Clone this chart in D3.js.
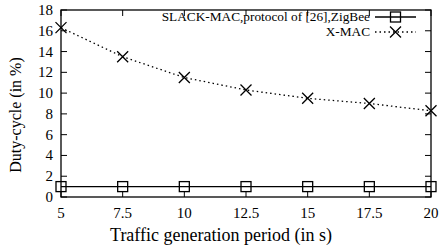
<!DOCTYPE html>
<html><head><meta charset="utf-8">
<script src="https://cdn.jsdelivr.net/npm/d3@7"></script>
<style>body{margin:0;background:#fff}svg{display:block}</style>
</head><body><svg id="c" width="439" height="248"></svg>
<script>
const periods = [5, 7.5, 10, 12.5, 15, 17.5, 20];
const slackMac = [1, 1, 1, 1, 1, 1, 1];
const xMac = [16.3, 13.5, 11.5, 10.3, 9.5, 9.0, 8.3];
const xTicks = [5, 7.5, 10, 12.5, 15, 17.5, 20];
const yTicks = [0, 2, 4, 6, 8, 10, 12, 14, 16, 18];
const seriesNames = ["SLACK-MAC,protocol of [26],ZigBee", "X-MAC"];

const FONT = "Liberation Serif";
const svg = d3.select("#c");
const L = 61, R = 431, T = 10, B = 197;
const x = d3.scaleLinear().domain([5, 20]).range([L, R]);
const y = d3.scaleLinear().domain([0, 18]).range([B, T]);
const tk = 6;
function txt(xp, yp, s, size, anchor) {
  return svg.append("text").attr("x", xp).attr("y", yp).attr("font-family", FONT)
    .attr("font-size", size).attr("text-anchor", anchor).attr("fill", "#000").text(s);
}

const g = svg.append("g").attr("stroke", "#000").attr("stroke-width", 1);
xTicks.forEach(v => {
  g.append("line").attr("x1", x(v)).attr("x2", x(v)).attr("y1", B).attr("y2", B - tk);
  g.append("line").attr("x1", x(v)).attr("x2", x(v)).attr("y1", T).attr("y2", T + tk);
});
yTicks.forEach(v => {
  g.append("line").attr("x1", L).attr("x2", L + tk).attr("y1", y(v)).attr("y2", y(v));
  g.append("line").attr("x1", R).attr("x2", R - tk).attr("y1", y(v)).attr("y2", y(v));
});
svg.append("rect").attr("x", L).attr("y", T).attr("width", R - L).attr("height", B - T)
  .attr("fill", "none").attr("stroke", "#000").attr("stroke-width", 1.3);

xTicks.forEach(v => txt(x(v), 218, v, 15, "middle"));
yTicks.forEach(v => txt(53, y(v) + 5, v, 15, "end"));

txt(221, 241, "Traffic generation period (in s)", 18, "middle");
svg.append("text").attr("transform", "translate(21,115) rotate(-90)").attr("text-anchor", "middle")
  .attr("font-family", FONT).attr("font-size", 16).text("Duty-cycle (in %)");

const line = d3.line().x(d => x(d[0])).y(d => y(d[1]));
const d1 = periods.map((p, i) => [p, slackMac[i]]);
const d2 = periods.map((p, i) => [p, xMac[i]]);
svg.append("path").attr("d", line(d1)).attr("fill", "none").attr("stroke", "#000").attr("stroke-width", 1.3);
svg.append("path").attr("d", line(d2)).attr("fill", "none").attr("stroke", "#000").attr("stroke-width", 1.3)
  .attr("stroke-dasharray", "1.5,3");

function square(cx, cy) {
  svg.append("rect").attr("x", cx - 5).attr("y", cy - 5).attr("width", 10).attr("height", 10)
    .attr("fill", "none").attr("stroke", "#000").attr("stroke-width", 1.3);
}
function cross(cx, cy) {
  svg.append("path").attr("d", `M${cx-5.5},${cy-5.5}L${cx+5.5},${cy+5.5}M${cx-5.5},${cy+5.5}L${cx+5.5},${cy-5.5}`)
    .attr("stroke", "#000").attr("stroke-width", 1.3);
}
d1.forEach(d => square(x(d[0]), y(d[1])));
d2.forEach(d => cross(x(d[0]), y(d[1])));

const lx0 = 375, lx1 = 416, lxm = 395.5;
txt(370, 21, seriesNames[0], 13.3, "end");
svg.append("line").attr("x1", lx0).attr("x2", lx1).attr("y1", 17).attr("y2", 17).attr("stroke", "#000").attr("stroke-width", 1.3);
square(lxm, 17);
txt(370, 36, seriesNames[1], 13.3, "end");
svg.append("line").attr("x1", lx0).attr("x2", lx1).attr("y1", 32).attr("y2", 32).attr("stroke", "#000").attr("stroke-width", 1.3)
  .attr("stroke-dasharray", "1.5,3");
cross(lxm, 32);
</script></body></html>
